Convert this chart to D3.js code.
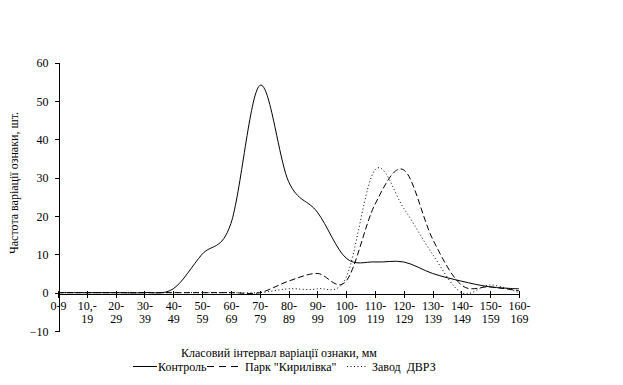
<!DOCTYPE html>
<meta charset="utf-8">
<head>
	<title> Частота варіації ознаки </title>
	<script src="https://cdn.jsdelivr.net/npm/d3@7/dist/d3.min.js"></script>
	<style>
		body { margin: 0; background: #fff; }
		svg text { font-family: "Liberation Serif", "DejaVu Serif", serif; font-size: 12px; fill: #000; white-space: pre; }
		.axis path, .axis line { stroke: #000; shape-rendering: crispEdges; }
	</style>
</head>
<body>
	<div id="chart"></div>
	<script>
		// class intervals (x axis)
		var categories = ["0-9", "10,-19", "20-29", "30-39", "40-49", "50-59", "60-69", "70-79", "80-89",
			"90-99", "100-109", "110-119", "120-129", "130-139", "140-149", "150-159", "160-169"];

		// frequencies
		var kontrol = [0, 0, 0, 0, 1, 10, 18, 54, 29, 21, 9, 8, 8, 5, 3, 1.5, 1];
		var park    = [0, 0, 0, 0, 0, 0, 0, 0, 3, 5, 3, 23, 32, 14, 2, 1.5, 0.5];
		var zavod   = [0, 0, 0, 0, 0, 0, 0, 0, 1, 1, 4, 32, 22, 10, 0, 2, 0];

		var seriesNames = ["Контроль", "Парк \"Кирилівка\"", "Завод  ДВРЗ"];
		var yTicks = [-10, 0, 10, 20, 30, 40, 50, 60];

		var width = 623, height = 385;

		var svg = d3.select("#chart").append("svg")
			.attr("width", width)
			.attr("height", height)
			.attr("font-family", "Liberation Serif");

		var x = d3.scalePoint().domain(categories).range([58, 519]);
		var y = d3.scaleLinear().domain([-10, 60]).range([331, 62.5]);

		// y axis
		var yAxis = svg.append("g")
			.attr("class", "axis")
			.attr("transform", "translate(58.5,0)")
			.call(d3.axisLeft(y).tickValues(yTicks).tickSize(4).tickSizeOuter(0).tickPadding(6));
		yAxis.attr("font-family", null).attr("font-size", null);
		yAxis.selectAll("text").attr("dy", "0.35em");

		// x axis at zero, ticks crossing the line
		var xAxis = svg.append("g")
			.attr("class", "axis")
			.attr("transform", "translate(0," + (Math.round(y(0)) + 0.5) + ")")
			.call(d3.axisBottom(x).tickSize(4).tickSizeOuter(0).tickFormat(""));
		xAxis.attr("font-family", null).attr("font-size", null);
		xAxis.selectAll(".tick line").attr("y1", -3).attr("y2", 4);
		xAxis.selectAll(".tick").each(function(d) {
			var lines = d.length > 3 ? [d.slice(0, d.indexOf("-") + 1), d.slice(d.indexOf("-") + 1)] : [d];
			var t = d3.select(this).append("text")
				.attr("text-anchor", "middle")
				.attr("y", 16);
			lines.forEach(function(s, i) {
				t.append("tspan").attr("x", 0).attr("dy", i ? 13 : 0).text(s);
			});
		});

		// lines
		var line = d3.line()
			.x(function(d, i) { return x(categories[i]); })
			.y(function(d) { return y(d); })
			.curve(d3.curveCardinal.tension(0));

		var dashes = [null, "6,3", "1,2.5"];
		[kontrol, park, zavod].forEach(function(s, i) {
			svg.append("path")
				.datum(s)
				.attr("d", line)
				.attr("fill", "none")
				.attr("stroke", "#000")
				.attr("stroke-width", 1)
				.attr("stroke-dasharray", dashes[i]);
		});

		// axis titles
		svg.append("text")
			.attr("x", 279).attr("y", 357)
			.attr("text-anchor", "middle")
			.text("Класовий інтервал варіації ознаки, мм");

		svg.append("text")
			.attr("transform", "translate(18,183) rotate(-90)")
			.attr("text-anchor", "middle")
			.text("Частота варіації ознаки, шт.");

		// legend
		var legendPos = [[133, 157, 158], [207, 240, 245], [347, 368, 372]];
		var legendDash = [null, "7,5", "1,2.5"];
		legendPos.forEach(function(p, i) {
			svg.append("line")
				.attr("x1", p[0]).attr("x2", p[1])
				.attr("y1", 366.5).attr("y2", 366.5)
				.attr("stroke", "#000")
				.attr("stroke-dasharray", legendDash[i]);
			svg.append("text")
				.attr("x", p[2]).attr("y", 370.5)
				.text(seriesNames[i]);
		});
	</script>
</body>
</html>
